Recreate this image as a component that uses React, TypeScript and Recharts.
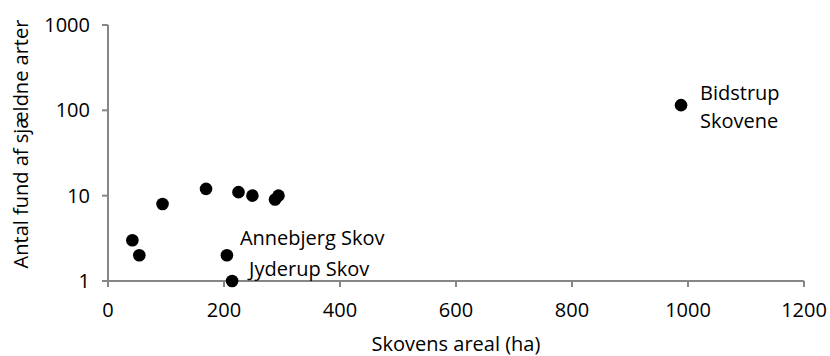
import { Scatter, ScatterChart, XAxis, YAxis, LabelList, Label } from "recharts";

const areas = [42, 54, 94, 169, 205, 214, 225, 249, 288, 294, 988];
const finds = [3, 2, 8, 12, 2, 1, 11, 10, 9, 10, 115];
const names = ["", "", "", "", "Annebjerg Skov", "Jyderup Skov", "", "", "", "", "Bidstrup\nSkovene"];

const xTicks = [0, 200, 400, 600, 800, 1000, 1200];
const yTicks = [1, 10, 100, 1000];

const points = areas.map((x, i) => ({ x, y: finds[i], name: names[i] }));

// label offsets relative to the dot centre
const labelOffset: Record<string, [number, number]> = {
  "Annebjerg Skov": [13, -18],
  "Jyderup Skov": [17, -13],
  "Bidstrup\nSkovene": [19, -13],
};

const FONT = "'Open Sans', sans-serif";
const AXIS = "#868686";

function Dot(props: any) {
  return <circle cx={props.cx} cy={props.cy} r={6.3} fill="#000" />;
}

function PointLabel(props: any) {
  const { x, y, width, height, value } = props;
  if (!value) return null;
  const cx = x + width / 2;
  const cy = y + height / 2;
  const [dx, dy] = labelOffset[value] ?? [12, 0];
  const lines = String(value).split("\n");
  return (
    <text x={cx + dx} y={cy + dy} fill="#000" fontSize={20} fontFamily={FONT} dominantBaseline="central">
      {lines.map((l, i) => (
        <tspan key={i} x={cx + dx} dy={i === 0 ? 0 : 28}>
          {l}
        </tspan>
      ))}
    </text>
  );
}

export default function App() {
  return (
    <div style={{ position: "absolute", left: 0, top: 0, background: "#fff" }}>
      <ScatterChart width={830} height={356} margin={{ top: 25, right: 26, bottom: 0, left: 0 }}>
        <XAxis
          type="number"
          dataKey="x"
          domain={[0, 1200]}
          ticks={xTicks}
          stroke={AXIS}
          strokeWidth={2}
          tickSize={6}
          tickMargin={16}
          tick={{ fill: "#000", fontSize: 20, fontFamily: FONT }}
          height={75}
        >
          <Label value="Skovens areal (ha)" position="insideBottom" offset={5} fill="#000" fontSize={20} fontFamily={FONT} />
        </XAxis>
        <YAxis
          type="number"
          dataKey="y"
          scale="log"
          domain={[1, 1000]}
          ticks={yTicks}
          stroke={AXIS}
          strokeWidth={2}
          tickSize={6}
          tickMargin={12}
          tick={{ fill: "#000", fontSize: 20, fontFamily: FONT }}
          width={108}
        >
          <Label
            value="Antal fund af sjældne arter"
            angle={-90}
            position="insideLeft"
            offset={21}
            dy={-9}
            fill="#000"
            fontSize={20}
            fontFamily={FONT}
            style={{ textAnchor: "middle" }}
          />
        </YAxis>
        <Scatter data={points} fill="#000" shape={Dot} isAnimationActive={false}>
          <LabelList dataKey="name" content={PointLabel} />
        </Scatter>
      </ScatterChart>
    </div>
  );
}
